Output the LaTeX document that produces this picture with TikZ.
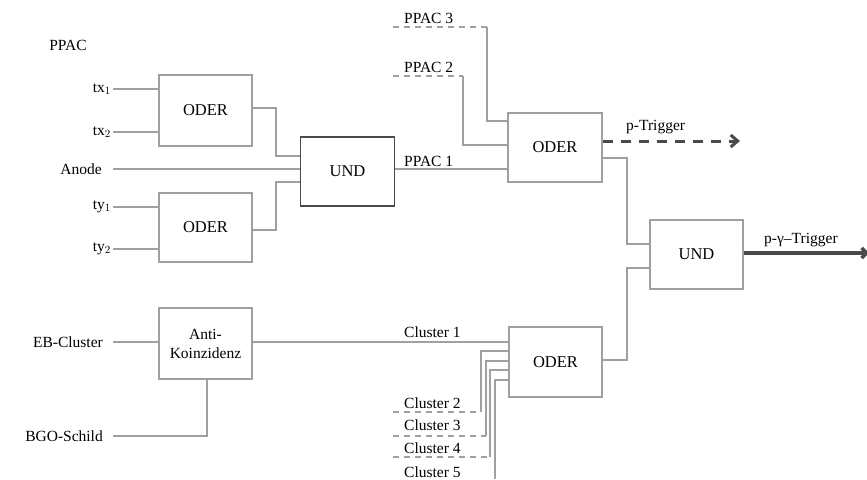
\documentclass[tikz,border=0pt]{standalone}
\usepackage{fontspec}
\setmainfont{Liberation Serif}
\usetikzlibrary{arrows.meta}
\definecolor{wire}{HTML}{A0A0A0}
\definecolor{heavy}{HTML}{4A4A4A}
\begin{document}
\begin{tikzpicture}[x=1pt,y=-1pt,
  box/.style={draw=wire,line width=1.3pt,rectangle,inner sep=0pt,font=\fontsize{16.5}{18}\selectfont},
  lbl/.style={inner sep=0pt,font=\fontsize{15.5}{17}\selectfont},
  wireline/.style={draw=wire,line width=1.3pt},
  dashwire/.style={draw=wire,line width=1.1pt,dash pattern=on 6pt off 5pt},
]
\useasboundingbox (0,0) rectangle (867,479);
% boxes
\node[box,minimum width=93pt,minimum height=71pt] (O1) at (205.5,110.5) {ODER};
\node[box,minimum width=93pt,minimum height=69pt] (O2) at (205.5,227.5) {ODER};
\node[box,draw=heavy,line width=1.5pt,minimum width=94pt,minimum height=69pt] (U1) at (347.5,171.5) {UND};
\node[box,minimum width=94pt,minimum height=69pt] (O3) at (555,147.5) {ODER};
\node[box,minimum width=93pt,minimum height=69pt] (U2) at (696.5,254.5) {UND};
\node[box,minimum width=93pt,minimum height=70pt] (O4) at (555.5,362) {ODER};
\node[box,minimum width=93pt,minimum height=71pt,align=center,font=\fontsize{15.5}{17}\selectfont] (AK) at (205.5,343.5) {Anti-\\[2pt]Koinzidenz};
% labels
\node[lbl] (lppac) at (68,45) {PPAC};
\node[lbl,anchor=east] (ltx1) at (111,89) {tx$_1$};
\node[lbl,anchor=east] (ltx2) at (111,132) {tx$_2$};
\node[lbl,anchor=east] (lan) at (102,169) {Anode};
\node[lbl,anchor=east] (lty1) at (111,207) {ty$_1$};
\node[lbl,anchor=east] (lty2) at (111,249) {ty$_2$};
\node[lbl,anchor=east] (leb) at (103,342) {EB-Cluster};
\node[lbl,anchor=east] (lbgo) at (103,436) {BGO-Schild};
\node[lbl,anchor=west] (lp3) at (404,18) {PPAC 3};
\node[lbl,anchor=west] (lp2) at (404,67) {PPAC 2};
\node[lbl,anchor=west] (lp1) at (404,161) {PPAC 1};
\node[lbl,anchor=west] (lc1) at (404,332) {Cluster 1};
\node[lbl,anchor=west] (lc2) at (404,403) {Cluster 2};
\node[lbl,anchor=west] (lc3) at (404,425) {Cluster 3};
\node[lbl,anchor=west] (lc4) at (404,448) {Cluster 4};
\node[lbl,anchor=west] (lc5) at (404,472) {Cluster 5};
\node[lbl,anchor=west] (lpt) at (626,127) {p-Trigger};
\node[lbl,anchor=west] (lpgt) at (764,240) {p-γ–Trigger};
% free ends
\coordinate (ctx1) at (113,89);
\coordinate (ctx2) at (113,132);
\coordinate (can) at (113,169);
\coordinate (cty1) at (113,207);
\coordinate (cty2) at (113,249);
\coordinate (ceb) at (113,342);
\coordinate (cbgo) at (113,436);
\coordinate (cp3) at (393,27);
\coordinate (cp3k) at (487,27);
\coordinate (cp2) at (393,76);
\coordinate (cp2k) at (463,76);
\coordinate (cc2) at (393,412);
\coordinate (cc2k) at (481,412);
\coordinate (cc3) at (393,436);
\coordinate (cc3k) at (486,436);
\coordinate (cc4) at (393,457);
\coordinate (cc4k) at (490,457);
\coordinate (cc5) at (495,479);
\coordinate (cpt) at (740,141);
\coordinate (cpgt) at (869,253);
% inputs to ODER1/2
\draw[wireline] (ctx1) -- (ctx1 -| O1.west);
\draw[wireline] (ctx2) -- (ctx2 -| O1.west);
\draw[wireline] (cty1) -- (cty1 -| O2.west);
\draw[wireline] (cty2) -- (cty2 -| O2.west);
\draw[wireline] (can) -- (can -| U1.west);
\draw[wireline] (O1.east |- 0,108) -- (276,108) -- (276,156) -- (U1.west |- 0,156);
\draw[wireline] (O2.east |- 0,230) -- (276,230) -- (276,182) -- (U1.west |- 0,182);
% PPAC to ODER3
\draw[wireline] (U1.east |- 0,169) -- (O3.west |- 0,169);
\draw[dashwire] (cp3) -- (cp3k);
\draw[wireline] (cp3k) -- (487,121) -- (O3.west |- 0,121);
\draw[dashwire] (cp2) -- (cp2k);
\draw[wireline] (cp2k) -- (463,145) -- (O3.west |- 0,145);
% ODER3 outputs
\draw[draw=heavy,line width=3pt,dash pattern=on 10pt off 8pt,-{Straight Barb[length=7pt,width=12pt]}] (O3.east |- 0,141) -- (cpt);
\draw[wireline] (O3.east |- 0,158) -- (627,158) -- (627,244) -- (U2.west |- 0,244);
\draw[wireline] (O4.east |- 0,360) -- (627,360) -- (627,268) -- (U2.west |- 0,268);
\draw[draw=heavy,line width=3.5pt,-{Straight Barb[length=5pt,width=10pt]}] (U2.east |- 0,253) -- (cpgt);
% anti-coincidence
\draw[wireline] (ceb) -- (ceb -| AK.west);
\draw[wireline] (cbgo) -- (207,436) -- (AK.south -| 207,0);
\draw[wireline] (AK.east |- 0,342) -- (O4.west |- 0,342);
% clusters
\draw[dashwire] (cc2) -- (cc2k);
\draw[wireline] (cc2k) -- (481,351) -- (O4.west |- 0,351);
\draw[dashwire] (cc3) -- (cc3k);
\draw[wireline] (cc3k) -- (486,361) -- (O4.west |- 0,361);
\draw[dashwire] (cc4) -- (cc4k);
\draw[wireline] (cc4k) -- (490,370) -- (O4.west |- 0,370);
\draw[wireline] (cc5) -- (495,380) -- (O4.west |- 0,380);
\end{tikzpicture}
\end{document}
